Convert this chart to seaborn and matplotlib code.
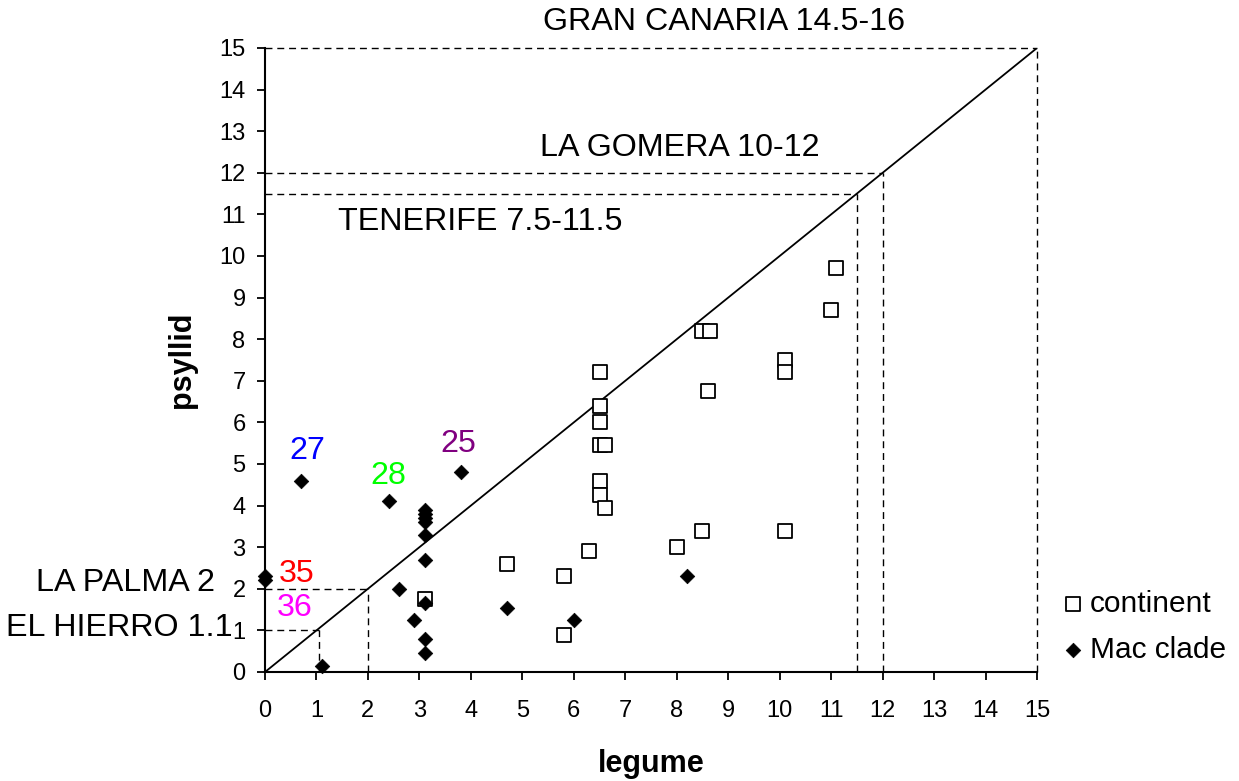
import matplotlib
matplotlib.use("Agg")
import matplotlib.pyplot as plt
import seaborn as sns
import pandas as pd

# ---- data ----
cont_legume = [3.1, 4.7, 5.8, 5.8, 6.3, 6.5, 6.5, 6.5, 6.5, 6.6, 6.5, 6.5, 6.6,
               8.0, 8.5, 8.5, 8.65, 8.6, 10.1, 10.1, 10.1, 11.0, 11.1]
cont_psyllid = [1.75, 2.6, 2.3, 0.9, 2.9, 7.2, 6.4, 6.0, 5.45, 5.45, 4.6, 4.25, 3.95,
                3.0, 3.4, 8.2, 8.2, 6.75, 7.5, 7.2, 3.4, 8.7, 9.7]
mac_legume = [0, 0, 0.7, 1.1, 2.4, 2.6, 2.9, 3.1, 3.1, 3.1, 3.1, 3.1, 3.1, 3.1,
              3.1, 3.1, 3.8, 4.7, 6.0, 8.2]
mac_psyllid = [2.3, 2.2, 4.6, 0.15, 4.1, 2.0, 1.25, 3.9, 3.8, 3.7, 3.6, 3.3, 2.7,
               1.65, 0.8, 0.45, 4.8, 1.55, 1.25, 2.3]

islands = ["GRAN CANARIA 14.5-16", "LA GOMERA 10-12", "TENERIFE 7.5-11.5",
           "LA PALMA 2", "EL HIERRO 1.1"]
island_x = [15, 12, 11.5, 2, 1.05]
island_y = [15, 12, 11.5, 2, 1.0]

clade_labels = ["27", "28", "25", "35", "36"]
clade_colors = ["#0000FF", "#00FF00", "#800080", "#FF0000", "#FF00FF"]

ticks = list(range(0, 16))

df_c = pd.DataFrame({"legume": cont_legume, "psyllid": cont_psyllid})
df_m = pd.DataFrame({"legume": mac_legume, "psyllid": mac_psyllid})

sns.set_style("ticks")
plt.rcParams["font.family"] = ["Liberation Sans", "DejaVu Sans"]
plt.rcParams["text.color"] = "black"
plt.rcParams["axes.labelcolor"] = "black"

fig = plt.figure(figsize=(12.39, 7.81), dpi=100)
ax = fig.add_axes([265 / 1239, 1 - 672 / 781, (1037 - 265) / 1239, (672 - 48) / 781])

# island dashed guides
dash = (0, (5, 3.5))
for xv, yv in zip(island_x, island_y):
    ax.plot([0, xv], [yv, yv], color="black", lw=1.0, linestyle=dash, clip_on=False)
    ax.plot([xv, xv], [0, yv], color="black", lw=1.0, linestyle=dash, clip_on=False)

# 1:1 line
ax.plot([0, 15], [0, 15], color="black", lw=1.3)

sns.scatterplot(data=df_c, x="legume", y="psyllid", marker="s", s=90,
                facecolor="white", edgecolor="black", linewidth=1.3,
                label="continent", ax=ax, clip_on=False, zorder=3)
sns.scatterplot(data=df_m, x="legume", y="psyllid", marker="D", s=55,
                color="black", edgecolor="black", linewidth=0.5,
                label="Mac clade", ax=ax, clip_on=False, zorder=4)

ax.set_xlim(0, 15)
ax.set_ylim(0, 15)
ax.set_xticks(ticks)
ax.set_yticks(ticks)
ax.tick_params(axis="both", direction="out", length=6, width=1.3,
               labelsize=17, color="black", labelcolor="black")
ax.tick_params(axis="x", pad=14)
ax.tick_params(axis="y", pad=8)
sns.despine(ax=ax)
for sp in ["left", "bottom"]:
    ax.spines[sp].set_linewidth(1.5)
    ax.spines[sp].set_color("black")

ax.set_xlabel("legume", fontsize=22, fontweight="bold")
ax.set_ylabel("psyllid", fontsize=22, fontweight="bold")
ax.xaxis.set_label_coords(0.5, -0.123)
ax.yaxis.set_label_coords(-0.088, 0.5)

fs = 23.2
ax.text(8.92, 15.63, islands[0], fontsize=fs, ha="center", va="center", clip_on=False)
ax.text(8.06, 12.6, islands[1], fontsize=fs, ha="center", va="center")
ax.text(4.18, 10.82, islands[2], fontsize=fs, ha="center", va="center")
ax.text(-0.97, 2.14, islands[3], fontsize=fs, ha="right", va="center", clip_on=False)
ax.text(-0.62, 1.06, islands[4], fontsize=fs, ha="right", va="center", clip_on=False)

lab_x = [0.82, 2.39, 3.75, 0.62, 0.58]
lab_y = [5.31, 4.71, 5.48, 2.36, 1.54]
for t, c, xx, yy in zip(clade_labels, clade_colors, lab_x, lab_y):
    ax.text(xx, yy, t, fontsize=fs, color=c, ha="center", va="center")

ax.legend(loc="center left", bbox_to_anchor=(1060 / 1239, 1 - 627 / 781),
          bbox_transform=fig.transFigure, frameon=False, fontsize=21.5,
          handletextpad=0.1, handlelength=0.9, labelspacing=0.6,
          borderaxespad=0, borderpad=0, markerscale=1.0)

fig.savefig("out.png", dpi=100, facecolor="white")
